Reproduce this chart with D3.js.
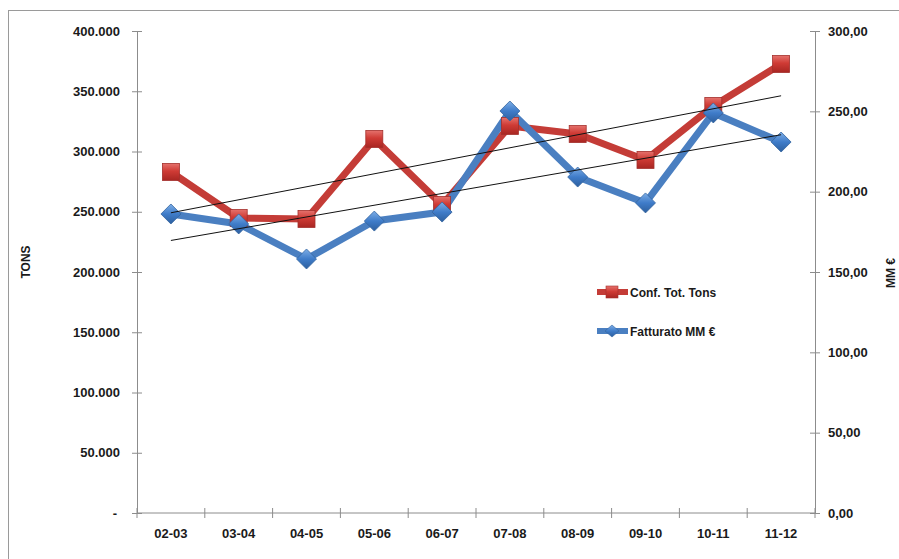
<!DOCTYPE html>
<html>
<head>
<meta charset="utf-8">
<script src="https://cdn.jsdelivr.net/npm/d3@7"></script>
<style>
  html, body { margin: 0; padding: 0; background: #fff; }
  svg { display: block; }
  text { font-family: "Liberation Sans", Arial, sans-serif; font-weight: bold; fill: #1a1a1a; }
</style>
</head>
<body>
<svg id="chart" width="899" height="559"></svg>
<script>
// Seasons on the category axis
const seasons = ["02-03", "03-04", "04-05", "05-06", "06-07", "07-08", "08-09", "09-10", "10-11", "11-12"];
// Total tons (left axis)
const tons = [283000, 244800, 244000, 310400, 255600, 321200, 314500, 293000, 337800, 372600];
// Turnover in millions of euro (right axis)
const turnover = [186.1, 179.9, 158.1, 181.7, 187.3, 250.2, 209.1, 193.0, 249.0, 230.9];
// Tick values
const tonsTicks = [0, 50000, 100000, 150000, 200000, 250000, 300000, 350000, 400000];
const eurTicks = [0, 50, 100, 150, 200, 250, 300];
const seriesNames = ["Conf. Tot. Tons", "Fatturato MM €"];

const svg = d3.select("#chart");
const plot = { left: 137, right: 815, top: 31, bottom: 513 };

const x = d3.scaleBand().domain(seasons).range([plot.left, plot.right]);
const yL = d3.scaleLinear().domain([0, 400000]).range([plot.bottom, plot.top]);
const yR = d3.scaleLinear().domain([0, 300]).range([plot.bottom, plot.top]);
const cx = d => x(d) + x.bandwidth() / 2;

// Outer chart frame
svg.append("rect").attr("x", 8.5).attr("y", 10.5).attr("width", 905).attr("height", 560)
  .attr("fill", "none").attr("stroke", "#9a9a9a").attr("stroke-width", 1);

// Gradients for the bevelled markers
const defs = svg.append("defs");
const redG = defs.append("linearGradient").attr("id", "redG").attr("x1", 0).attr("y1", 0).attr("x2", 0).attr("y2", 1);
redG.append("stop").attr("offset", "0%").attr("stop-color", "#e5726d");
redG.append("stop").attr("offset", "45%").attr("stop-color", "#cf3b35");
redG.append("stop").attr("offset", "100%").attr("stop-color", "#a82622");
const blueG = defs.append("linearGradient").attr("id", "blueG").attr("x1", 0).attr("y1", 0).attr("x2", 0).attr("y2", 1);
blueG.append("stop").attr("offset", "0%").attr("stop-color", "#7eaee6");
blueG.append("stop").attr("offset", "50%").attr("stop-color", "#3f7cc9");
blueG.append("stop").attr("offset", "100%").attr("stop-color", "#2d5f9e");

const grey = "#8c8c8c";

// Left axis
const leftAxis = d3.axisLeft(yL).tickValues(tonsTicks).tickSize(5).tickSizeOuter(0)
  .tickFormat(v => v === 0 ? "-" : d3.format(",")(v).replace(/,/g, "."));
const gL = svg.append("g").attr("transform", `translate(${plot.left},0)`).call(leftAxis);
gL.select(".domain").attr("stroke", grey);
gL.selectAll(".tick line").attr("stroke", grey).attr("x1", -5).attr("x2", 5);
gL.selectAll(".tick text").attr("x", -17).attr("font-size", 13).attr("fill", "#1a1a1a");
gL.selectAll(".tick text").filter(d => d === 0).attr("x", -20);

// Right axis
const rightAxis = d3.axisRight(yR).tickValues(eurTicks).tickSize(5).tickSizeOuter(0)
  .tickFormat(v => d3.format(".2f")(v).replace(".", ","));
const gR = svg.append("g").attr("transform", `translate(${plot.right},0)`).call(rightAxis);
gR.select(".domain").attr("stroke", grey);
gR.selectAll(".tick line").attr("stroke", grey).attr("x1", -5).attr("x2", 5);
gR.selectAll(".tick text").attr("x", 13).attr("font-size", 13).attr("fill", "#1a1a1a");

// Category axis with ticks between seasons
const gX = svg.append("g").attr("transform", `translate(0,${plot.bottom})`);
gX.append("line").attr("x1", plot.left).attr("x2", plot.right).attr("stroke", grey);
const bounds = seasons.map(d => x(d)).concat([plot.right]);
gX.selectAll("line.tk").data(bounds).join("line").attr("class", "tk")
  .attr("x1", d => d).attr("x2", d => d).attr("y1", -5).attr("y2", 5).attr("stroke", grey);
gX.selectAll("text").data(seasons).join("text")
  .attr("x", d => cx(d)).attr("y", 25).attr("text-anchor", "middle").attr("font-size", 13)
  .text(d => d);

// Axis titles
svg.append("text").attr("transform", "translate(30,262) rotate(-90)")
  .attr("text-anchor", "middle").attr("font-size", 12).text("TONS");
svg.append("text").attr("transform", "translate(895,273) rotate(-90)")
  .attr("text-anchor", "middle").attr("font-size", 12).text("MM €");

// Least-squares trend line through a series
function trend(vals) {
  const n = vals.length, xs = d3.range(n);
  const mx = d3.mean(xs), my = d3.mean(vals);
  const b = d3.sum(xs, i => (i - mx) * (vals[i] - my)) / d3.sum(xs, i => (i - mx) ** 2);
  const a = my - b * mx;
  return [a, a + b * (n - 1)];
}

const lineL = d3.line().x((d, i) => cx(seasons[i])).y(d => yL(d));
const lineR = d3.line().x((d, i) => cx(seasons[i])).y(d => yR(d));

// Series lines
svg.append("path").datum(tons).attr("d", lineL).attr("fill", "none")
  .attr("stroke", "#c43c37").attr("stroke-width", 7).attr("stroke-linejoin", "round");
svg.append("path").datum(turnover).attr("d", lineR).attr("fill", "none")
  .attr("stroke", "#4a7fc1").attr("stroke-width", 7).attr("stroke-linejoin", "round");

// Markers
const sq = 17;
svg.selectAll("rect.m").data(tons).join("rect").attr("class", "m")
  .attr("x", (d, i) => cx(seasons[i]) - sq / 2).attr("y", d => yL(d) - sq / 2)
  .attr("width", sq).attr("height", sq).attr("fill", "url(#redG)")
  .attr("stroke", "#a3302c").attr("stroke-width", 0.8);
const dia = 10;
svg.selectAll("path.m").data(turnover).join("path").attr("class", "m")
  .attr("transform", (d, i) => `translate(${cx(seasons[i])},${yR(d)})`)
  .attr("d", `M0,${-dia}L${dia},0L0,${dia}L${-dia},0Z`).attr("fill", "url(#blueG)")
  .attr("stroke", "#34659f").attr("stroke-width", 0.8);

// Trend lines drawn over the series
const tL = trend(tons), tR = trend(turnover);
svg.append("line").attr("x1", cx(seasons[0])).attr("x2", cx(seasons[seasons.length - 1]))
  .attr("y1", yL(tL[0])).attr("y2", yL(tL[1])).attr("stroke", "#111").attr("stroke-width", 1);
svg.append("line").attr("x1", cx(seasons[0])).attr("x2", cx(seasons[seasons.length - 1]))
  .attr("y1", yR(tR[0])).attr("y2", yR(tR[1])).attr("stroke", "#111").attr("stroke-width", 1);

// Legend
const legend = svg.append("g");
const items = [
  { name: seriesNames[0], color: "#c43c37", y: 292, kind: "sq" },
  { name: seriesNames[1], color: "#4a7fc1", y: 331, kind: "dia" }
];
items.forEach(it => {
  legend.append("line").attr("x1", 597).attr("x2", 628).attr("y1", it.y).attr("y2", it.y)
    .attr("stroke", it.color).attr("stroke-width", 6);
  if (it.kind === "sq") {
    legend.append("rect").attr("x", 606).attr("y", it.y - 6).attr("width", 12).attr("height", 12)
      .attr("fill", "url(#redG)").attr("stroke", "#a3302c").attr("stroke-width", 0.6);
  } else {
    legend.append("path").attr("transform", `translate(612,${it.y})`)
      .attr("d", "M0,-6L7,0L0,6L-7,0Z").attr("fill", "url(#blueG)")
      .attr("stroke", "#34659f").attr("stroke-width", 0.6);
  }
  legend.append("text").attr("x", 630).attr("y", it.y + 5).attr("font-size", 12).text(it.name);
});
</script>
</body>
</html>
